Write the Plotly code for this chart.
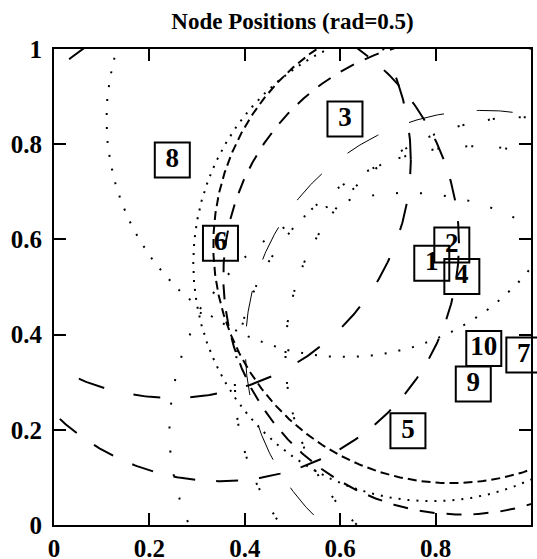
import numpy as np
import plotly.graph_objects as go

# Node positions in the unit square and the coverage radius drawn around each
node_ids = ["1", "2", "3", "4", "5", "6", "7", "8", "9", "10"]
node_x = [0.792, 0.834, 0.610, 0.855, 0.742, 0.349, 0.985, 0.248, 0.879, 0.901]
node_y = [0.550, 0.588, 0.853, 0.522, 0.198, 0.592, 0.357, 0.767, 0.296, 0.371]
RAD = 0.5

tick_vals = [0, 0.2, 0.4, 0.6, 0.8, 1]
tick_text = ["0", "0.2", "0.4", "0.6", "0.8", "1"]

# One dash pattern / width per node circle
circle_dash = ["2px,7px", "9px,5px", "2px,12px", "15px,12px", "2px,22px",
               "22px,21px", "2px,3px,2px,24px", "27px,30px", "2px,4px,2px,26px",
               "36px,33px"]
circle_width = [2, 2, 2, 2, 2, 2, 2, 2, 2, 1]

FONT = "Liberation Serif, Times New Roman, serif"

fig = go.Figure()

theta = np.linspace(0, 2 * np.pi, 721)
for i, (cx, cy) in enumerate(zip(node_x, node_y)):
    fig.add_trace(go.Scatter(
        x=cx + RAD * np.cos(theta),
        y=cy + RAD * np.sin(theta),
        mode="lines",
        line=dict(color="black", width=circle_width[i], dash=circle_dash[i]),
        hoverinfo="skip",
        showlegend=False,
    ))

# Boxed node labels
fig.add_trace(go.Scatter(
    x=node_x, y=node_y,
    mode="markers+text",
    text=node_ids,
    textposition="middle center",
    textfont=dict(family=FONT, size=27, color="black", weight="bold"),
    marker=dict(symbol="square-open", size=35, color="black",
                line=dict(width=2, color="black")),
    cliponaxis=False,
    showlegend=False,
))

axis_common = dict(
    range=[0, 1],
    tickmode="array",
    tickvals=tick_vals,
    ticktext=tick_text,
    ticks="inside",
    ticklen=12,
    tickwidth=2,
    tickcolor="black",
    showline=True,
    linewidth=2,
    linecolor="black",
    mirror="ticks",
    showgrid=False,
    zeroline=False,
    automargin=False,
    tickfont=dict(family=FONT, size=25, color="black", weight="bold"),
    fixedrange=True,
)

fig.update_layout(
    width=537, height=559,
    margin=dict(l=54, r=6, t=49, b=34, autoexpand=False),
    paper_bgcolor="white",
    plot_bgcolor="white",
    title=dict(
        text="Node Positions (rad=0.5)",
        font=dict(family=FONT, size=23, color="black", weight="bold"),
        x=0.5447, xanchor="center",
        y=0.962, yanchor="middle", yref="container",
    ),
    xaxis=dict(**axis_common),
    yaxis=dict(**axis_common, ticklabelstandoff=5),
)

fig.write_html("out.html")
